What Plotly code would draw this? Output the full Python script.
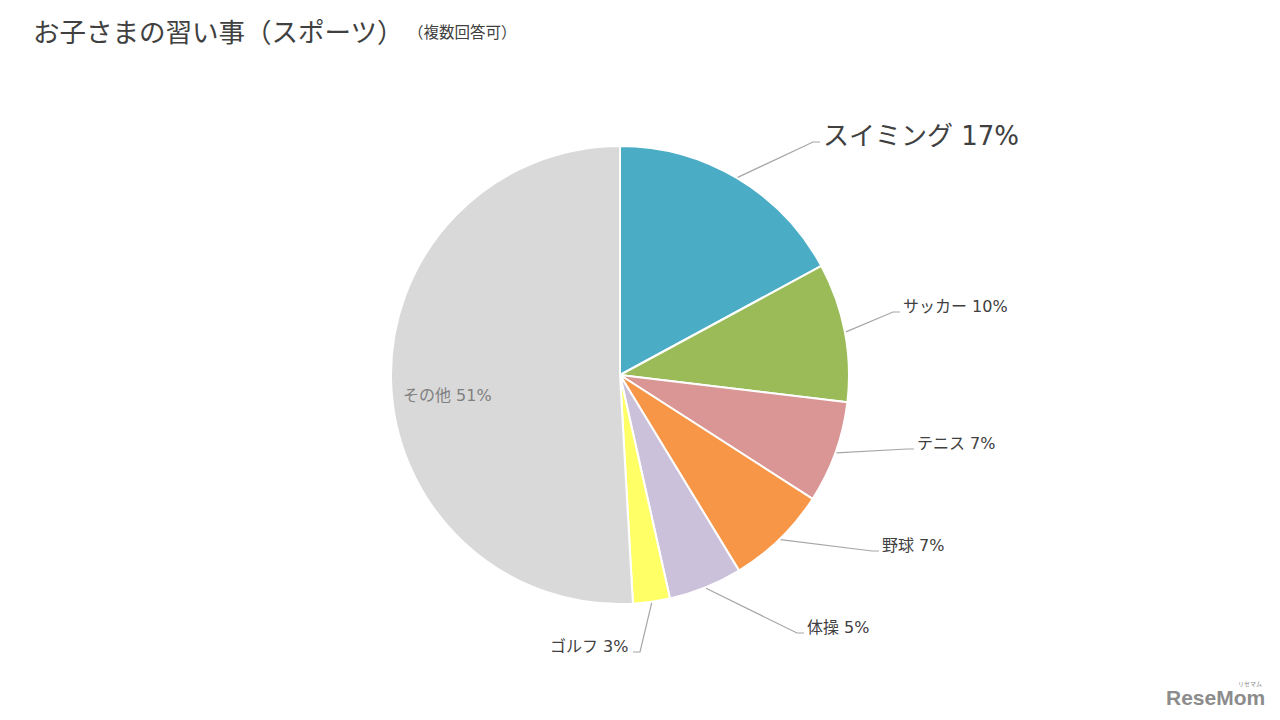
import math
import plotly.graph_objects as go

# ---- data ----
categories = ["スイミング", "サッカー", "テニス", "野球", "体操", "ゴルフ", "その他"]
values = [17.1, 9.8, 7.2, 7.2, 5.2, 2.6, 50.9]
colors = ["#4BACC6", "#9BBB59", "#D99694", "#F79646", "#CCC1DA", "#FFFF66", "#D9D9D9"]

title_text = "お子さまの習い事（スポーツ）"
subtitle_text = "（複数回答可）"

# ---- layout constants (pixels) ----
W, H = 1280, 720
CX, CY, R = 620, 375, 229
FONT = "DejaVu Sans, Noto Sans CJK JP, sans-serif"
TFONT = "Noto Sans CJK JP, sans-serif"

# label elbow points (pixel positions) and side for each outside label
label_pos = {
    "スイミング": (813, 142, "right", 26),
    "サッカー": (893, 312, "right", 16),
    "テニス": (907, 449, "right", 16),
    "野球": (872, 551, "right", 16),
    "体操": (797, 633, "right", 16),
    "ゴルフ": (640, 652, "left", 16),
}
inside_pos = {"その他": (401, 395)}

fig = go.Figure()

fig.add_trace(go.Pie(
    labels=categories,
    values=values,
    marker=dict(colors=colors, line=dict(color="white", width=2)),
    sort=False,
    direction="clockwise",
    rotation=0,
    textinfo="none",
    hoverinfo="label+percent",
    showlegend=False,
    domain=dict(x=[(CX - R) / W, (CX + R) / W],
                y=[(H - CY - R) / H, (H - CY + R) / H]),
))

# invisible pixel-space axes for annotations/lines
fig.add_trace(go.Scatter(x=[0, W], y=[0, H], mode="markers",
                         marker=dict(opacity=0), hoverinfo="skip", showlegend=False))

total = sum(values)
cum = 0.0
annotations = []
shapes = []
for cat, v in zip(categories, values):
    mid = (cum + v / 2) / total * 2 * math.pi
    cum += v
    pct = round(v / total * 100)
    text = f"{cat} {pct}%"
    if cat in label_pos:
        ex, ey, side, fs = label_pos[cat]
        sx = CX + (R + 1) * math.sin(mid)
        sy = CY - (R + 1) * math.cos(mid)
        hx = ex + 7 if side == "right" else ex - 7
        shapes.append(dict(type="path", xref="x", yref="y",
                           path=f"M {sx:.1f},{sy:.1f} L {ex},{ey} L {hx},{ey}",
                           line=dict(color="#A6A6A6", width=1.2)))
        annotations.append(dict(
            x=hx + 1 if side == "right" else hx - 3, y=ey - 6,
            xref="x", yref="y", text=text, showarrow=False,
            xanchor="left" if side == "right" else "right", yanchor="middle",
            font=dict(family=FONT, size=fs, color="#404040")))
    elif cat in inside_pos:
        ix, iy = inside_pos[cat]
        annotations.append(dict(
            x=ix, y=iy, xref="x", yref="y", text=text, showarrow=False,
            xanchor="left", yanchor="middle",
            font=dict(family=FONT, size=16, color="#808080")))

# title
annotations.append(dict(x=31, y=30, xref="x", yref="y", text=title_text, showarrow=False,
                        xanchor="left", yanchor="middle",
                        font=dict(family=TFONT, size=26.5, color="#404040")))
annotations.append(dict(x=406, y=31, xref="x", yref="y", text=subtitle_text, showarrow=False,
                        xanchor="left", yanchor="middle",
                        font=dict(family=TFONT, size=15.5, color="#404040")))
# logo
annotations.append(dict(x=1267, y=697, xref="x", yref="y", text="<b>ReseMom</b>", showarrow=False,
                        xanchor="right", yanchor="middle",
                        font=dict(family="Liberation Sans, Arial, sans-serif", size=21, color="#8C8C8C")))
annotations.append(dict(x=1264, y=683, xref="x", yref="y", text="リセマム", showarrow=False,
                        xanchor="right", yanchor="middle",
                        font=dict(family=TFONT, size=6, color="#8C8C8C")))

fig.update_layout(
    width=W, height=H,
    margin=dict(l=0, r=0, t=0, b=0),
    paper_bgcolor="white", plot_bgcolor="rgba(0,0,0,0)",
    xaxis=dict(range=[0, W], visible=False, fixedrange=True, domain=[0, 1]),
    yaxis=dict(range=[H, 0], visible=False, fixedrange=True, domain=[0, 1]),
    annotations=annotations,
    shapes=shapes,
)

fig.write_html("out.html", config={"displayModeBar": False},
               post_script="document.body.style.margin='0';")
